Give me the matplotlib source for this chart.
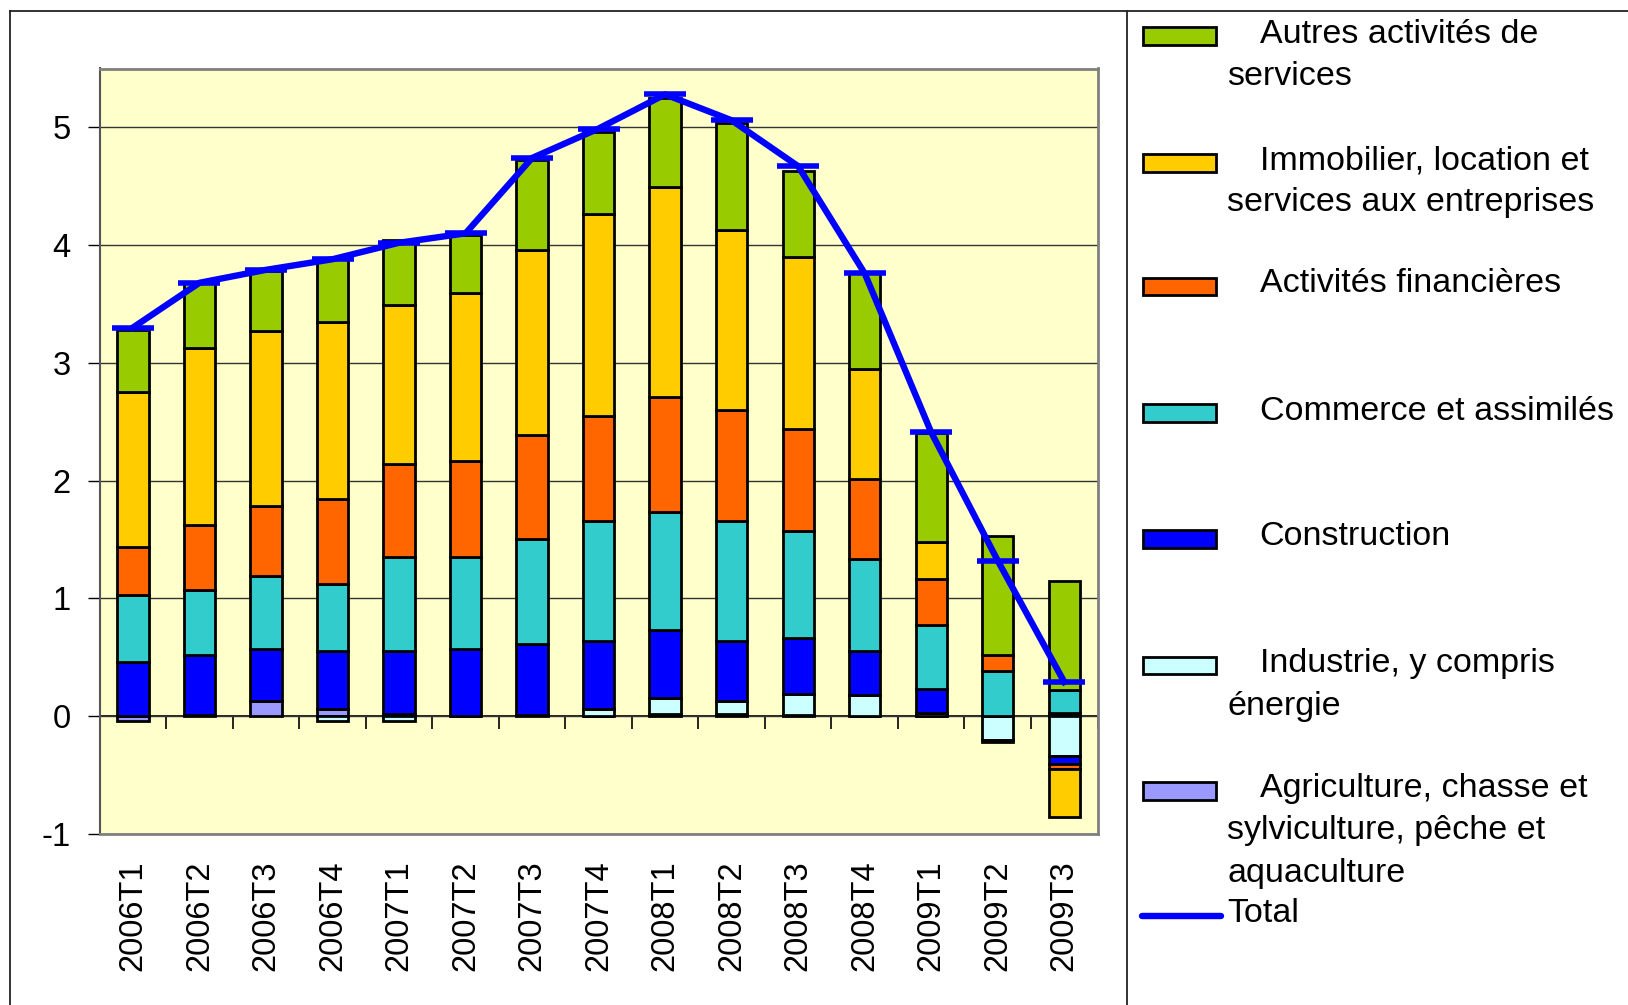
import numpy as np
import matplotlib
matplotlib.use('Agg')
import matplotlib.pyplot as plt
from matplotlib.patches import Rectangle
from matplotlib.lines import Line2D

plt.rcParams['font.family'] = ['Liberation Sans', 'DejaVu Sans']
plt.rcParams['axes.unicode_minus'] = False

quarters = ['2006T1', '2006T2', '2006T3', '2006T4', '2007T1', '2007T2', '2007T3',
            '2007T4', '2008T1', '2008T2', '2008T3', '2008T4', '2009T1', '2009T2', '2009T3']

# contributions, stacked bottom -> top
agriculture = [-0.04, 0.01, 0.13, 0.06, 0.02, 0.0, 0.01, 0.0, 0.02, 0.02, 0.01, 0.0, 0.0, 0.0, 0.025]
industrie = [0.0, 0.0, 0.0, -0.045, -0.045, 0.0, 0.0, 0.06, 0.13, 0.11, 0.18, 0.18, 0.03, -0.2, -0.34]
construction = [0.46, 0.51, 0.44, 0.49, 0.53, 0.57, 0.60, 0.58, 0.58, 0.51, 0.47, 0.37, 0.20, -0.02, -0.07]
commerce = [0.57, 0.55, 0.62, 0.57, 0.80, 0.78, 0.89, 1.02, 1.00, 1.02, 0.91, 0.78, 0.54, 0.38, 0.20]
financieres = [0.41, 0.55, 0.59, 0.72, 0.79, 0.82, 0.89, 0.89, 0.98, 0.94, 0.87, 0.68, 0.39, 0.14, -0.04]
immobilier = [1.31, 1.51, 1.49, 1.51, 1.35, 1.42, 1.57, 1.71, 1.78, 1.53, 1.46, 0.94, 0.32, 0.0, -0.41]
autres = [0.53, 0.55, 0.51, 0.54, 0.55, 0.50, 0.76, 0.70, 0.76, 0.91, 0.73, 0.81, 0.92, 1.01, 0.92]
total = [3.30, 3.68, 3.79, 3.88, 4.02, 4.10, 4.74, 4.99, 5.28, 5.06, 4.67, 3.76, 2.41, 1.32, 0.29]

series = [
    (agriculture, '#9999FF'),
    (industrie, '#CCFFFF'),
    (construction, '#0000FF'),
    (commerce, '#33CCCC'),
    (financieres, '#FF6600'),
    (immobilier, '#FFCC00'),
    (autres, '#99CC00'),
]

W, H = 1628, 1005
fig = plt.figure(figsize=(W / 100, H / 100), dpi=100)
ax = fig.add_axes([99.7 / W, 1 - 833.8 / H, (1097.5 - 99.7) / W, (833.8 - 68.5) / H])
ax.set_facecolor('#FFFFCC')

x = np.arange(len(quarters))
pos = np.zeros(len(x))
neg = np.zeros(len(x))
for vals, col in series:
    v = np.array(vals)
    bottom = np.where(v >= 0, pos, neg)
    ax.bar(x, v, 0.47, bottom=bottom, color=col, edgecolor='black', linewidth=2, zorder=3)
    pos += np.clip(v, 0, None)
    neg += np.clip(v, None, 0)

ax.plot(x, total, color='#0000FF', lw=4.6, marker='_', ms=30, mew=4, zorder=5)

ax.set_xlim(-0.5, len(x) - 0.5)
ax.set_ylim(-1, 5.5)
ax.set_yticks(range(-1, 6))
ax.yaxis.grid(True, color='#333333', lw=1)
ax.set_axisbelow(True)
ax.tick_params(axis='y', labelsize=23.5, length=9, width=1, pad=12)
ax.set_xticks(x)
ax.set_xticklabels(quarters, rotation=90, fontsize=23.5)
ax.tick_params(axis='x', length=0, pad=19)
for s in ['top', 'right', 'bottom']:
    ax.spines[s].set_color('#808080')
    ax.spines[s].set_linewidth(2)
ax.spines['left'].set_color('#555555')
ax.spines['left'].set_linewidth(1.5)

# category axis crossing at zero
sec = ax.secondary_xaxis(1 / 6.5)
sec.set_xticks(np.arange(-0.5, len(x), 1))
sec.set_xticklabels([])
sec.tick_params(direction='out', length=9, width=1.2, color='black')
sec.spines['bottom'].set_color('black')
sec.spines['bottom'].set_linewidth(1.2)


def fx(px):
    return px / W


def fy(py):
    return 1 - py / H


# outer frame
for xs, ys in [([10.4, 10.4], [11.5, H]), ([10.4, W], [11.5, 11.5]), ([1127, 1127], [11.5, H])]:
    fig.add_artist(Line2D([fx(v) for v in xs], [fy(v) for v in ys], color='#222222', lw=1.3))

# legend
legend = [
    ('#99CC00', 36.3, [('Autres activités de', 1259.5, 34.3), ('services', 1227.3, 76.8)]),
    ('#FFCC00', 163.0, [('Immobilier, location et', 1259.5, 161.0), ('services aux entreprises', 1227.3, 202.5)]),
    ('#FF6600', 286.6, [('Activités financières', 1259.5, 283.5)]),
    ('#33CCCC', 413.2, [('Commerce et assimilés', 1259.5, 411.0)]),
    ('#0000FF', 538.9, [('Construction', 1259.5, 536.8)]),
    ('#CCFFFF', 665.5, [('Industrie, y compris', 1259.5, 663.5), ('énergie', 1227.3, 707.0)]),
    ('#9999FF', 791.2, [('Agriculture, chasse et', 1259.5, 788.0), ('sylviculture, pêche et', 1227.3, 830.6),
                        ('aquaculture', 1227.3, 873.2)]),
]
for col, py, lines in legend:
    fig.add_artist(Rectangle((fx(1143), fy(py + 8.8)), 73 / W, 17.6 / H, facecolor=col,
                             edgecolor='black', lw=2, transform=fig.transFigure))
    for txt, px, ty in lines:
        fig.text(fx(px), fy(ty), txt, fontsize=24.5, ha='left', va='center')

fig.add_artist(Line2D([fx(1142), fx(1221)], [fy(915.8), fy(915.8)], color='#0000FF', lw=4.6,
                      solid_capstyle='round'))
fig.text(fx(1227.3), fy(913.7), 'Total', fontsize=24.5, ha='left', va='center')

fig.savefig('out.png', dpi=100)
